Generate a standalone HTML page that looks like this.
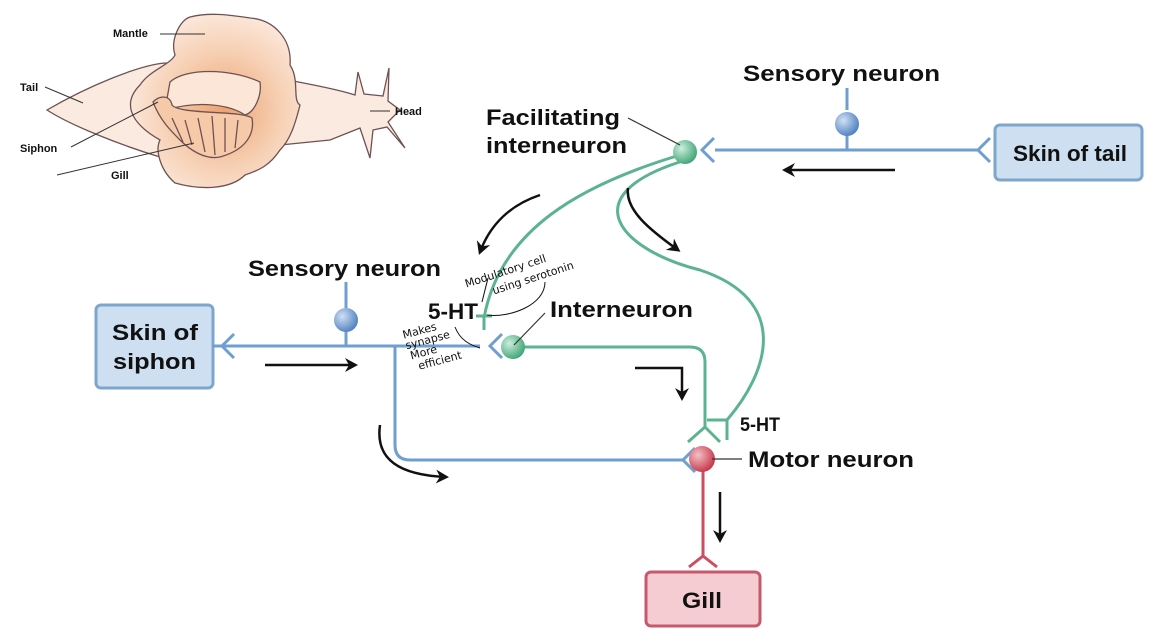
<!DOCTYPE html>
<html><head><meta charset="utf-8"><style>
html,body{margin:0;padding:0;background:#fff;}
svg{display:block;}
text{font-family:"Liberation Sans",sans-serif;font-weight:bold;fill:#111;}
.hw{font-family:"DejaVu Sans",sans-serif;font-weight:normal;font-size:11px;fill:#111;}
</style></head><body>
<svg width="1166" height="644" viewBox="0 0 1166 644" xmlns="http://www.w3.org/2000/svg">
<defs>
<radialGradient id="peach" cx="0.55" cy="0.55" r="0.55">
<stop offset="0" stop-color="#eea272"/><stop offset="0.6" stop-color="#f6cfb2"/><stop offset="1" stop-color="#fbe6d8"/></radialGradient>
<radialGradient id="bl" cx="0.35" cy="0.35" r="0.7"><stop offset="0" stop-color="#cfe0f3"/><stop offset="1" stop-color="#4d7fc0"/></radialGradient>
<radialGradient id="gr" cx="0.35" cy="0.35" r="0.7"><stop offset="0" stop-color="#cdeedd"/><stop offset="1" stop-color="#3ea476"/></radialGradient>
<radialGradient id="rd" cx="0.35" cy="0.35" r="0.7"><stop offset="0" stop-color="#f3c0c6"/><stop offset="1" stop-color="#c73347"/></radialGradient>
<marker id="ah" markerWidth="16" markerHeight="14" refX="10" refY="7" orient="auto" markerUnits="userSpaceOnUse"><path d="M0,0 L13,7 L0,14 L4,7 Z" fill="#111"/></marker>
</defs>

<!-- snail -->
<g stroke="#6e5252" stroke-width="1.3">
<path d="M47,110 C90,85 140,65 165,63 L260,75 C300,82 340,90 355,95 L358,72 L364,94 L383,96 L389,68 L388,101 L400,110 L388,122 L405,148 L387,127 L373,130 L370,158 L360,128 L330,140 L230,150 L160,157 C120,145 70,125 47,110 Z" fill="#fbeadf"/>
<path d="M190,17 C210,12 230,15 250,18 C275,20 292,40 290,65 C300,80 292,100 300,105 C295,125 290,140 280,150 C270,165 260,170 245,175 C230,190 200,190 175,183 C160,170 155,150 160,140 C125,120 125,100 140,85 C150,70 170,65 175,55 C170,40 180,20 190,17 Z" fill="url(#peach)"/>
<path d="M170,82 C185,68 230,68 260,82 C262,95 255,112 245,115 C230,105 200,100 165,110 Z" fill="#fbe6d8"/>
<path d="M153,102 C160,95 170,95 172,105 C180,115 240,110 252,118 C255,135 245,150 220,157 C205,160 190,150 180,140 C170,130 160,120 153,102 Z" fill="#f6c9a9"/>
<path d="M185,120 L192,145 M198,118 L205,152 M212,116 L215,155 M225,118 L225,152 M238,120 L235,148 M172,118 L183,142" fill="none"/>
</g>
<g stroke="#333" stroke-width="1" fill="none">
<path d="M160,34 L205,34"/><path d="M45,87 L83,103"/><path d="M71,147 L158,102"/><path d="M57,175 L194,143"/><path d="M370,111 L390,111"/>
</g>
<text x="113" y="37" font-size="11">Mantle</text>
<text x="20" y="91" font-size="11">Tail</text>
<text x="20" y="152" font-size="11">Siphon</text>
<text x="111" y="179" font-size="11">Gill</text>
<text x="395" y="115" font-size="11">Head</text>

<!-- boxes -->
<rect x="995" y="125" width="147" height="55" rx="5" fill="#cddff0" stroke="#7da6cc" stroke-width="3"/>
<text x="1013" y="161" font-size="22" textLength="114" lengthAdjust="spacingAndGlyphs">Skin of tail</text>
<rect x="96" y="305" width="117" height="83" rx="5" fill="#cddff0" stroke="#7da6cc" stroke-width="3"/>
<text x="112" y="340" font-size="22" textLength="86" lengthAdjust="spacingAndGlyphs">Skin of</text>
<text x="113" y="369" font-size="22" textLength="83" lengthAdjust="spacingAndGlyphs">siphon</text>
<rect x="646" y="572" width="114" height="54" rx="5" fill="#f4ccd2" stroke="#c65a6c" stroke-width="3"/>
<text x="682" y="608" font-size="22" textLength="40" lengthAdjust="spacingAndGlyphs">Gill</text>

<!-- blue lines -->
<g stroke="#6f9ed1" stroke-width="3" fill="none">
<path d="M715,150 L978,150"/>
<path d="M990,138 L978,150 L990,162"/>
<path d="M714,138 L702,150 L714,162"/>
<path d="M847,124 L847,150"/>
<path d="M847,88 L847,110"/>
<path d="M213,346 L480,346"/>
<path d="M234,334 L222,346 L234,358"/>
<path d="M502,334 L490,346 L502,358"/>
<path d="M346,320 L346,346"/>
<path d="M346,282 L346,308"/>
<path d="M395,346 L395,445 Q395,460 410,460 L683,460"/>
<path d="M695,448 L683,460 L695,472"/>
</g>
<!-- green -->
<g stroke="#5bb48f" stroke-width="3" fill="none">
<path d="M680,155 C580,185 500,230 484,318"/>
<path d="M476,316 L492,316 M484,316 L484,330"/>
<path d="M686,160 C570,195 620,250 700,270 C790,300 770,370 727,420"/>
<path d="M707,420 L727,420 M727,420 L727,440"/>
<path d="M520,347 L690,347 Q705,347 705,362 L705,427 L688,442 M705,427 L720,442"/>
</g>
<!-- red -->
<g stroke="#cc4e60" stroke-width="3" fill="none">
<path d="M703,470 L703,556 L689,567 M703,556 L717,567"/>
</g>
<!-- somas -->
<circle cx="847" cy="124" r="12" fill="url(#bl)"/>
<circle cx="346" cy="320" r="12" fill="url(#bl)"/>
<circle cx="685" cy="152" r="12" fill="url(#gr)"/>
<circle cx="513" cy="347" r="12" fill="url(#gr)"/>
<circle cx="702" cy="459" r="13" fill="url(#rd)"/>

<!-- label pointers -->
<g stroke="#333" stroke-width="1.2"><path d="M628,118 L680,145"/><path d="M545,313 L514,345"/><path d="M712,459 L742,459"/></g>

<!-- labels -->
<text x="743" y="81" font-size="22" textLength="197" lengthAdjust="spacingAndGlyphs">Sensory neuron</text>
<text x="486" y="125" font-size="22" textLength="134" lengthAdjust="spacingAndGlyphs">Facilitating</text>
<text x="486" y="153" font-size="22" textLength="141" lengthAdjust="spacingAndGlyphs">interneuron</text>
<text x="248" y="276" font-size="22" textLength="193" lengthAdjust="spacingAndGlyphs">Sensory neuron</text>
<text x="428" y="319" font-size="22" textLength="50" lengthAdjust="spacingAndGlyphs">5-HT</text>
<text x="550" y="317" font-size="22" textLength="143" lengthAdjust="spacingAndGlyphs">Interneuron</text>
<text x="740" y="431" font-size="19" textLength="40" lengthAdjust="spacingAndGlyphs">5-HT</text>
<text x="748" y="467" font-size="22" textLength="166" lengthAdjust="spacingAndGlyphs">Motor neuron</text>

<!-- black arrows -->
<g stroke="#111" stroke-width="2.5" fill="none" marker-end="url(#ah)">
<path d="M895,170 L785,170"/>
<path d="M265,365 L355,365"/>
<path d="M635,368 L682,368 L682,398"/>
<path d="M720,492 L720,540"/>
<path d="M380,425 C375,460 400,475 446,477"/>
<path d="M540,195 C510,205 490,225 480,252"/>
<path d="M628,188 C625,210 650,230 678,250"/>
</g>

<!-- handwriting -->
<g transform="rotate(-18 520 265)"><text class="hw" x="462" y="270" font-size="13">Modulatory cell</text><text class="hw" x="486" y="285" font-size="12">using serotonin</text></g>
<g stroke="#111" stroke-width="1" fill="none"><path d="M488,278 L482,302"/><path d="M545,282 C545,305 510,318 487,315"/><path d="M455,327 C460,340 470,345 480,348"/></g>
<g transform="rotate(-15 430 340)"><text class="hw" x="405" y="332" font-size="10">Makes</text><text class="hw" x="405" y="343" font-size="10">synapse</text><text class="hw" x="407" y="354" font-size="10">More</text><text class="hw" x="412" y="366" font-size="10">efficient</text></g>
</svg>
</body></html>
